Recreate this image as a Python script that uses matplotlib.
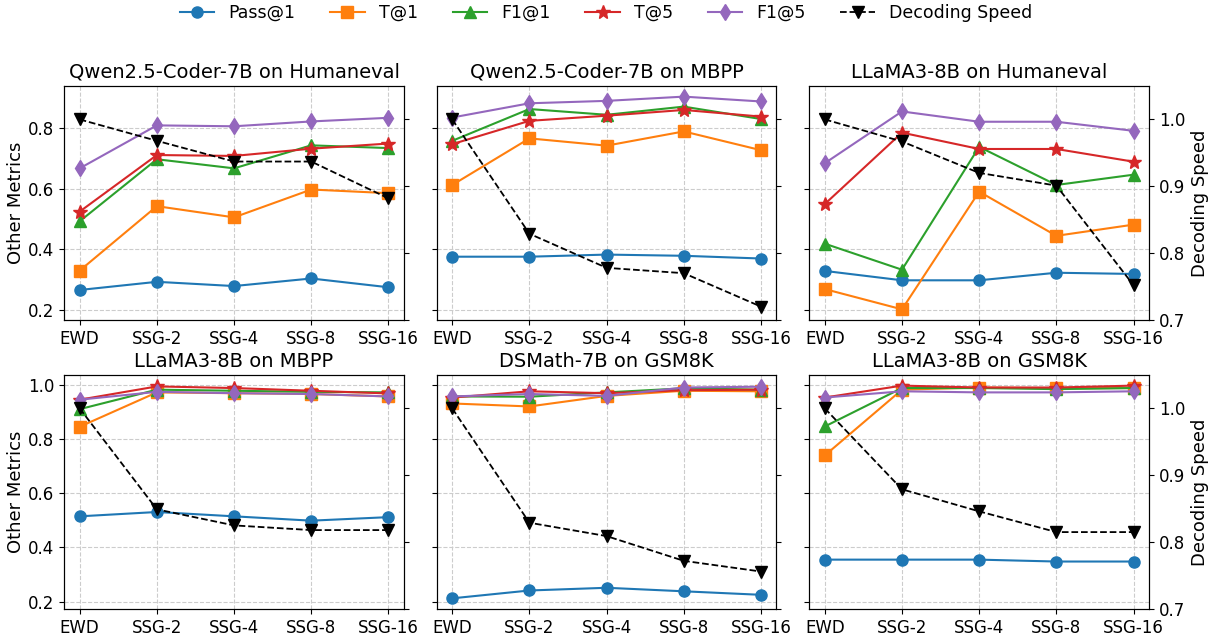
import matplotlib
matplotlib.use("Agg")
import matplotlib.pyplot as plt

methods = ["EWD", "SSG-2", "SSG-4", "SSG-8", "SSG-16"]
titles = ["Qwen2.5-Coder-7B on Humaneval", "Qwen2.5-Coder-7B on MBPP", "LLaMA3-8B on Humaneval",
          "LLaMA3-8B on MBPP", "DSMath-7B on GSM8K", "LLaMA3-8B on GSM8K"]

pass1 = [
    [0.266, 0.293, 0.279, 0.304, 0.275],
    [0.376, 0.376, 0.383, 0.379, 0.370],
    [0.329, 0.298, 0.298, 0.323, 0.319],
    [0.515, 0.531, 0.515, 0.499, 0.512],
    [0.212, 0.241, 0.251, 0.238, 0.225],
    [0.355, 0.355, 0.355, 0.348, 0.348],
]
t1 = [
    [0.330, 0.543, 0.506, 0.598, 0.586],
    [0.613, 0.767, 0.743, 0.790, 0.728],
    [0.269, 0.202, 0.591, 0.445, 0.482],
    [0.846, 0.973, 0.970, 0.967, 0.958],
    [0.932, 0.921, 0.960, 0.979, 0.977],
    [0.740, 0.983, 0.991, 0.988, 0.989],
]
f1_1 = [
    [0.493, 0.698, 0.668, 0.744, 0.735],
    [0.759, 0.864, 0.845, 0.872, 0.831],
    [0.419, 0.333, 0.739, 0.613, 0.647],
    [0.911, 0.983, 0.979, 0.975, 0.973],
    [0.958, 0.957, 0.973, 0.988, 0.983],
    [0.847, 0.989, 0.989, 0.985, 0.989],
]
t5 = [
    [0.525, 0.712, 0.709, 0.733, 0.750],
    [0.748, 0.825, 0.842, 0.861, 0.839],
    [0.550, 0.786, 0.732, 0.732, 0.690],
    [0.946, 0.995, 0.989, 0.979, 0.969],
    [0.954, 0.977, 0.970, 0.981, 0.983],
    [0.954, 0.998, 0.991, 0.991, 0.998],
]
f1_5 = [
    [0.668, 0.810, 0.807, 0.823, 0.835],
    [0.836, 0.883, 0.891, 0.905, 0.889],
    [0.685, 0.856, 0.822, 0.822, 0.792],
    [0.946, 0.975, 0.970, 0.967, 0.958],
    [0.958, 0.967, 0.960, 0.991, 0.994],
    [0.954, 0.977, 0.973, 0.973, 0.977],
]
speed = [
    [1.000, 0.968, 0.937, 0.937, 0.882],
    [1.000, 0.829, 0.778, 0.770, 0.720],
    [1.000, 0.967, 0.920, 0.901, 0.752],
    [1.000, 0.849, 0.825, 0.818, 0.818],
    [1.000, 0.829, 0.809, 0.772, 0.756],
    [1.000, 0.879, 0.846, 0.815, 0.815],
]

series_names = ["Pass@1", "T@1", "F1@1", "T@5", "F1@5"]
series_data = [pass1, t1, f1_1, t5, f1_5]
markers = ["o", "s", "^", "*", "d"]
colors = ["#1f77b4", "#ff7f0e", "#2ca02c", "#d62728", "#9467bd"]
msizes = [8, 8, 8, 10, 8]

fig, axes = plt.subplots(2, 3, figsize=(12.12, 6.37), dpi=100, sharey="row")
fig.subplots_adjust(left=0.053, right=0.948, top=0.865, bottom=0.044, wspace=0.097, hspace=0.235)

x = list(range(len(methods)))
handles = []
for i, ax in enumerate(axes.flat):
    r, c = divmod(i, 3)
    hs = []
    for name, data, m, col, ms in zip(series_names, series_data, markers, colors, msizes):
        h, = ax.plot(x, data[i], marker=m, color=col, label=name, markersize=ms, linewidth=1.5)
        hs.append(h)
    ax.grid(True, linestyle="--", color="#cccccc", linewidth=0.8)
    ax.set_xticks(x)
    ax.set_xticklabels(methods, fontsize=12)
    ax.tick_params(axis="y", labelsize=12)
    ax.set_title(titles[i], fontsize=14)
    if c == 0:
        ax.set_ylabel("Other Metrics", fontsize=13, labelpad=2)
    ax2 = ax.twinx()
    h2, = ax2.plot(x, speed[i], marker="v", color="black", linestyle="--", markersize=8,
                   linewidth=1.3, label="Decoding Speed")
    hs.append(h2)
    ax2.set_ylim(0.7, 1.05)
    ax2.set_yticks([0.7, 0.8, 0.9, 1.0])
    if c == 2:
        ax2.tick_params(axis="y", labelsize=12)
        ax2.set_ylabel("Decoding Speed", fontsize=13)
    else:
        ax2.set_yticklabels([])
    if i == 0:
        handles = hs

fig.legend(handles, [h.get_label() for h in handles], loc="upper center",
           bbox_to_anchor=(0.5, 1.018), ncol=6, frameon=False, fontsize=12.5)
fig.savefig("out.png", dpi=100)
